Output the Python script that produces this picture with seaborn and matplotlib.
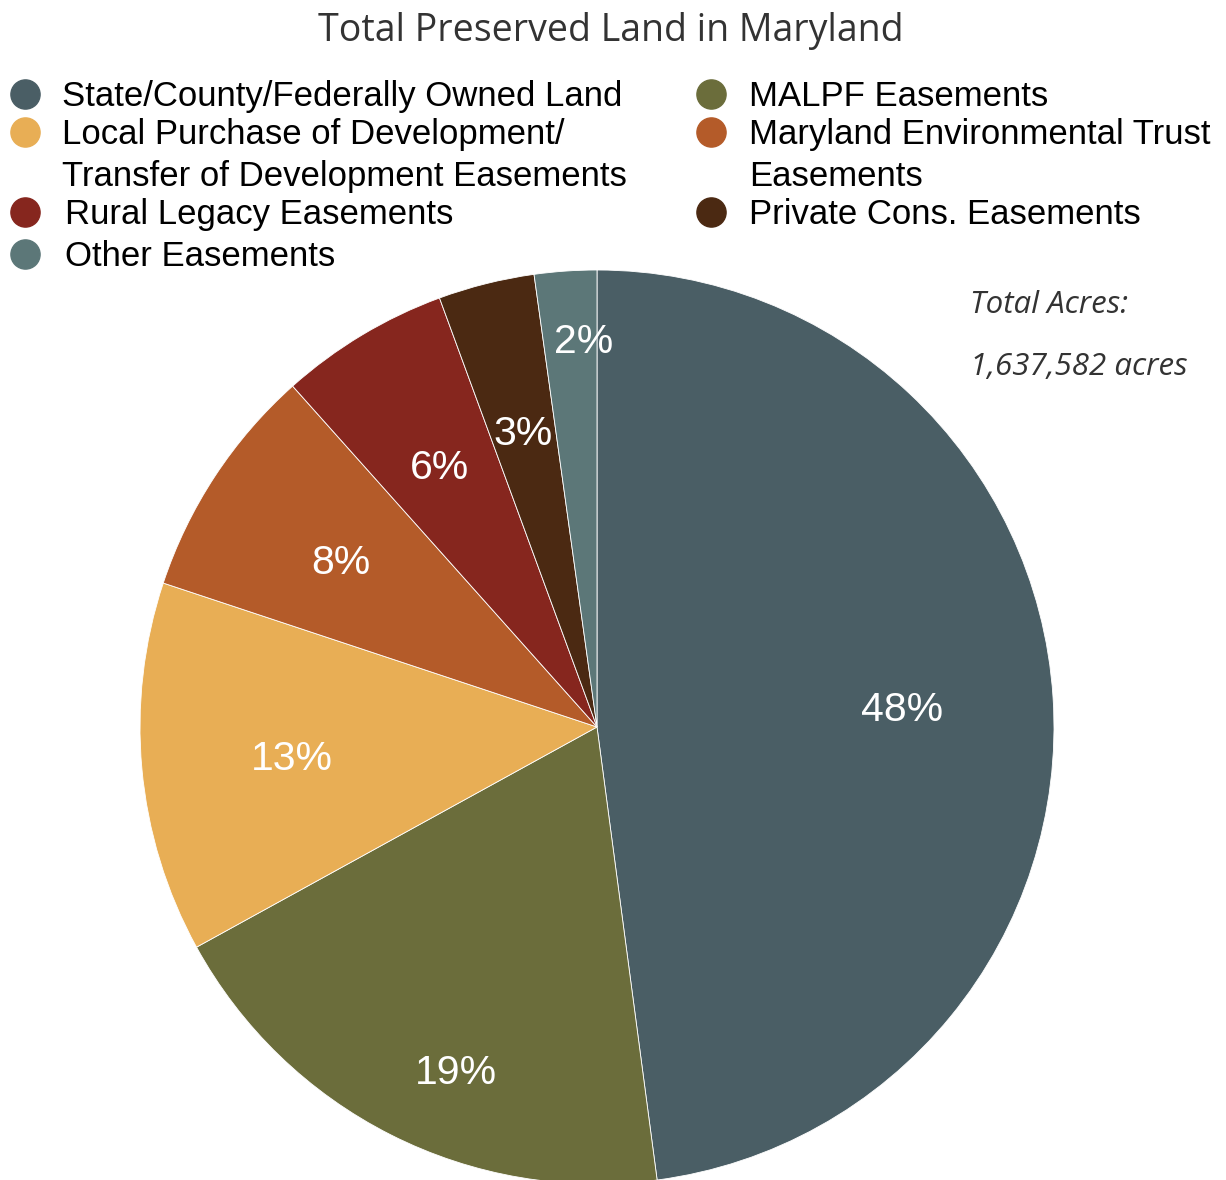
import numpy as np
import seaborn as sns
import matplotlib.pyplot as plt
from matplotlib.lines import Line2D

# data (share of total preserved acres, %)
categories = ["State/County/Federally Owned Land",
              "MALPF Easements",
              "Local Purchase of Development/\nTransfer of Development Easements",
              "Maryland Environmental Trust\nEasements",
              "Rural Legacy Easements",
              "Private Cons. Easements",
              "Other Easements"]
shares = [47.9, 19.1, 13.1, 8.3, 6.0, 3.4, 2.2]
colors = ["#4a5e65", "#6b6d3b", "#e8ae55", "#b45b29", "#86261e", "#4b2912", "#5c7778"]
total_acres = 1637582

# radial position / angular nudge of each % label
label_r = [0.67, 0.81, 0.67, 0.67, 0.67, 0.67, 0.85]
label_dth = [0, 4.5, 0, 0, 0, 0, -2]

W, H = 1226, 1180
sns.set_theme(style="white")
plt.rcParams["font.family"] = ["Liberation Sans", "DejaVu Sans"]

fig = plt.figure(figsize=(W / 100, H / 100), dpi=100)
fig.patch.set_facecolor("white")

# pie: center (597, 727) px, radius 457 px
cx, cy, rad = 597, 727, 457
ax = fig.add_axes([(cx - rad) / W, (H - cy - rad) / H, 2 * rad / W, 2 * rad / H])
palette = sns.color_palette(colors)
wedges, texts, autotexts = ax.pie(shares, colors=palette, startangle=90, counterclock=False,
                                  autopct=lambda p: f"{p:.0f}%",
                                  wedgeprops=dict(linewidth=0.6, edgecolor="white"),
                                  textprops=dict(color="white", fontsize=29.5,
                                                 family=["Liberation Sans"]))
for w, t, r, d in zip(wedges, autotexts, label_r, label_dth):
    th = np.deg2rad((w.theta1 + w.theta2) / 2 + d)
    t.set_position((r * np.cos(th), r * np.sin(th) - 0.008))
ax.set_xlim(-1, 1)
ax.set_ylim(-1, 1)
ax.axis("off")


def fx(x):
    return x / W


def fy(y):
    return 1 - y / H


fig.text(fx(611), fy(31), "Total Preserved Land in Maryland", ha="center", va="center",
         fontsize=27, color="#333333", family=["Open Sans"])

fig.text(fx(970), fy(305), "Total Acres:", ha="left", va="center", fontsize=22.5,
         style="italic", color="#333333", family=["Open Sans"])
fig.text(fx(970), fy(367), f"{total_acres:,} acres", ha="left", va="center", fontsize=22.5,
         style="italic", color="#333333", family=["Open Sans"])

# legend laid out in two columns like the original
legend_order = [0, 2, 4, 6, 1, 3, 5]
rows = {0: (25, 62, 94), 2: (25, 62, 132), 4: (25, 65, 212), 6: (25, 65, 254),
        1: (711, 749, 94), 3: (711, 749, 132), 5: (711, 749, 212)}
for i in legend_order:
    mx, tx, y = rows[i]
    fig.add_artist(Line2D([fx(mx)], [fy(y)], marker="o", markersize=21, color=colors[i],
                          linestyle="none", transform=fig.transFigure))
    fig.text(fx(tx), fy(y - 14), categories[i], ha="left", va="top", fontsize=25,
             color="black", linespacing=1.36)

plt.savefig("out.png", dpi=100)
